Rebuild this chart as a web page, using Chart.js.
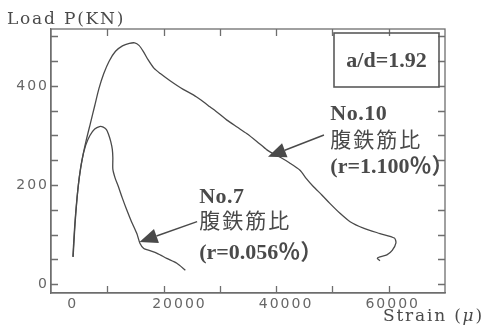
<!DOCTYPE html>
<html>
<head>
<meta charset="utf-8">
<script src="https://cdn.jsdelivr.net/npm/chart.js@4.4.0/dist/chart.umd.min.js"></script>
<style>
  html, body { margin: 0; padding: 0; background: #fff; }
  #wrap { width: 486px; height: 325px; }
</style>
</head>
<body>
<div id="wrap"><canvas id="c" width="486" height="325"></canvas></div>
<script>
// Load–strain curves of two beams, shear span ratio a/d = 1.92

// Specimen No.10 (web reinforcement ratio 1.100 %)
const no10Strain = [200, 500, 900, 1400, 2000, 2700, 3500, 4300, 5100, 6000, 7000, 8200, 9500, 10800, 11800,
  12600, 13400, 14300, 15400, 16600, 18500, 20900, 22800, 24300, 25900, 27500, 29100, 31000, 32800, 34700,
  36600, 38000, 39100, 40800, 42800, 44000, 45300, 46900, 48400, 50300, 52200, 54700, 57800, 60500, 60800,
  60100, 59100, 57800, 57300, 57800];
const no10Load = [55, 110, 165, 215, 255, 290, 325, 360, 395, 425, 450, 470, 481, 486, 487,
  482, 470, 453, 436, 425, 410, 393, 382, 371, 358, 345, 331, 317, 304, 288,
  271, 262, 256, 245, 230, 213, 197, 180, 163, 143, 126, 113, 102, 93, 83,
  68, 59, 55, 52, 47];

// Specimen No.7 (web reinforcement ratio 0.056 %)
const no7Strain = [250, 600, 1000, 1400, 1900, 2600, 3400, 4300, 5200, 5900, 6500, 6900, 7300, 7600, 7700,
  7700, 8100, 8700, 9500, 10300, 11200, 12200, 12800, 13500, 14500, 16000, 17800, 19700, 21300];
const no7Load = [55, 120, 175, 215, 250, 280, 300, 313, 318, 317, 312, 302, 288, 272, 255,
  232, 215, 198, 173, 150, 126, 102, 82, 72, 68, 62, 52, 42, 28];

// Axis tick labels
const xTickLabels = [0, 20000, 40000, 60000];
const yTickLabels = [0, 200, 400];

const toPoints = (xs, ys) => xs.map((x, i) => ({ x, y: ys[i] }));

const LINE = '#4a4a4a';
const AXIS = '#6e6e6e';
const TEXT = '#4a4a4a';
const TICK_TEXT = '#666';

// Callouts: label lines anchored in data space, arrow from tail to tip
const callouts = [
  { lines: ['No.10', '腹鉄筋比', '(r=1.100％）'], x: 48500, y: [331, 277, 224],
    tail: [47300, 301], tip: [36800, 257] },
  { lines: ['No.7', '腹鉄筋比', '(r=0.056％）'], x: 23900, y: [164, 113, 51],
    tail: [23500, 126], tip: [12700, 85] }
];

function txt(ctx, s, x, y, font, spacing, align, color) {
  ctx.save();
  ctx.font = font;
  ctx.letterSpacing = spacing + 'px';
  ctx.fillStyle = color || TEXT;
  ctx.textAlign = align || 'left';
  ctx.textBaseline = 'alphabetic';
  ctx.fillText(s, x, y);
  ctx.restore();
}

const decorations = {
  id: 'decorations',
  beforeDraw(chart) {
    // wide tick lettering
    chart.ctx.letterSpacing = '2px';
  },
  afterDraw(chart) {
    const ctx = chart.ctx;
    const a = chart.chartArea;
    const xs = chart.scales.x, ys = chart.scales.y;
    ctx.save();
    ctx.letterSpacing = '0px';

    // frame
    ctx.strokeStyle = AXIS;
    ctx.lineWidth = 1.3;
    ctx.strokeRect(a.left, a.top, a.right - a.left, a.bottom - a.top);

    // inward tick marks on all four sides
    ctx.beginPath();
    xs.ticks.forEach(t => {
      const px = Math.round(xs.getPixelForValue(t.value)) + 0.5;
      if (px <= a.left + 1 || px >= a.right - 1) return;
      ctx.moveTo(px, a.bottom); ctx.lineTo(px, a.bottom - 7);
      ctx.moveTo(px, a.top); ctx.lineTo(px, a.top + 7);
    });
    ys.ticks.forEach(t => {
      const py = Math.round(ys.getPixelForValue(t.value)) + 0.5;
      if (py <= a.top + 1 || py >= a.bottom - 1) return;
      ctx.moveTo(a.left, py); ctx.lineTo(a.left + 7, py);
      ctx.moveTo(a.right, py); ctx.lineTo(a.right - 7, py);
    });
    ctx.stroke();

    // strain tick labels, placed by the x scale
    xTickLabels.forEach(v => {
      const px = xs.getPixelForValue(v) + 1;
      txt(ctx, String(v), px, a.bottom + 15, '14px "DejaVu Sans"', 2, 'center', TICK_TEXT);
    });

    // axis titles
    txt(ctx, 'Load P(KN)', 7, 24, '17px "DejaVu Serif"', 1.8);
    ctx.save();
    ctx.font = '17px "DejaVu Serif"';
    ctx.letterSpacing = '1.8px';
    ctx.fillStyle = TEXT;
    let sx = 383;
    const sy = 321;
    ctx.fillText('Strain (', sx, sy);
    sx += ctx.measureText('Strain (').width;
    ctx.font = 'italic 17px "DejaVu Serif"';
    ctx.fillText('μ', sx, sy);
    sx += ctx.measureText('μ').width;
    ctx.font = '17px "DejaVu Serif"';
    ctx.fillText(')', sx, sy);
    ctx.restore();

    // a/d box
    const bx = a.right - 111, by = a.top + 4, bw = 105, bh = 54;
    ctx.strokeStyle = '#5a5a5a';
    ctx.lineWidth = 1.6;
    ctx.strokeRect(bx, by, bw, bh);
    txt(ctx, 'a/d=1.92', bx + bw / 2, by + 34, 'bold 22px "Liberation Serif"', 0, 'center');

    // callouts
    callouts.forEach(c => {
      const lx = xs.getPixelForValue(c.x);
      txt(ctx, c.lines[0], lx, ys.getPixelForValue(c.y[0]), 'bold 22px "Liberation Serif"', 0.5);
      txt(ctx, c.lines[1], lx, ys.getPixelForValue(c.y[1]), '21px "Noto Sans CJK JP"', 2);
      txt(ctx, c.lines[2], lx, ys.getPixelForValue(c.y[2]), 'bold 22px "Liberation Serif", "Noto Sans CJK JP"', 0);

      const x0 = xs.getPixelForValue(c.tail[0]), y0 = ys.getPixelForValue(c.tail[1]);
      const x1 = xs.getPixelForValue(c.tip[0]), y1 = ys.getPixelForValue(c.tip[1]);
      const ang = Math.atan2(y1 - y0, x1 - x0);
      const len = 18, half = 7.5;
      const bxp = x1 - len * Math.cos(ang), byp = y1 - len * Math.sin(ang);
      ctx.strokeStyle = LINE;
      ctx.fillStyle = LINE;
      ctx.lineWidth = 1.4;
      ctx.beginPath();
      ctx.moveTo(x0, y0);
      ctx.lineTo(bxp, byp);
      ctx.stroke();
      ctx.beginPath();
      ctx.moveTo(x1, y1);
      ctx.lineTo(bxp + half * Math.sin(ang), byp - half * Math.cos(ang));
      ctx.lineTo(bxp - half * Math.sin(ang), byp + half * Math.cos(ang));
      ctx.closePath();
      ctx.fill();
    });
    ctx.restore();
  }
};

new Chart(document.getElementById('c'), {
  type: 'scatter',
  data: {
    datasets: [
      { label: 'No.10', data: toPoints(no10Strain, no10Load), showLine: true, borderColor: LINE,
        borderWidth: 1.3, pointRadius: 0, tension: 0.25, fill: false },
      { label: 'No.7', data: toPoints(no7Strain, no7Load), showLine: true, borderColor: LINE,
        borderWidth: 1.3, pointRadius: 0, tension: 0.25, fill: false }
    ]
  },
  options: {
    responsive: false,
    animation: false,
    devicePixelRatio: 1,
    layout: { padding: { top: 29, right: 41, left: 0, bottom: 0 } },
    plugins: { legend: { display: false }, tooltip: { enabled: false } },
    scales: {
      x: {
        type: 'linear', min: -3900, max: 70000,
        ticks: { display: false, stepSize: 10000, includeBounds: false, autoSkip: false, maxRotation: 0 },
        grid: { display: false, drawTicks: false },
        border: { display: true, color: AXIS, width: 1.3 },
        afterFit: s => { s.height = 32; }
      },
      y: {
        type: 'linear', min: -18, max: 515,
        ticks: {
          stepSize: 50, includeBounds: false, autoSkip: false, padding: 2,
          color: TICK_TEXT, font: { family: 'DejaVu Sans', size: 14 },
          callback: v => yTickLabels.includes(v) ? String(v) : ''
        },
        grid: { display: false, drawTicks: false },
        border: { display: true, color: AXIS, width: 1.3 },
        afterFit: s => { s.width = 51; }
      }
    }
  },
  plugins: [decorations]
});
</script>
</body>
</html>
